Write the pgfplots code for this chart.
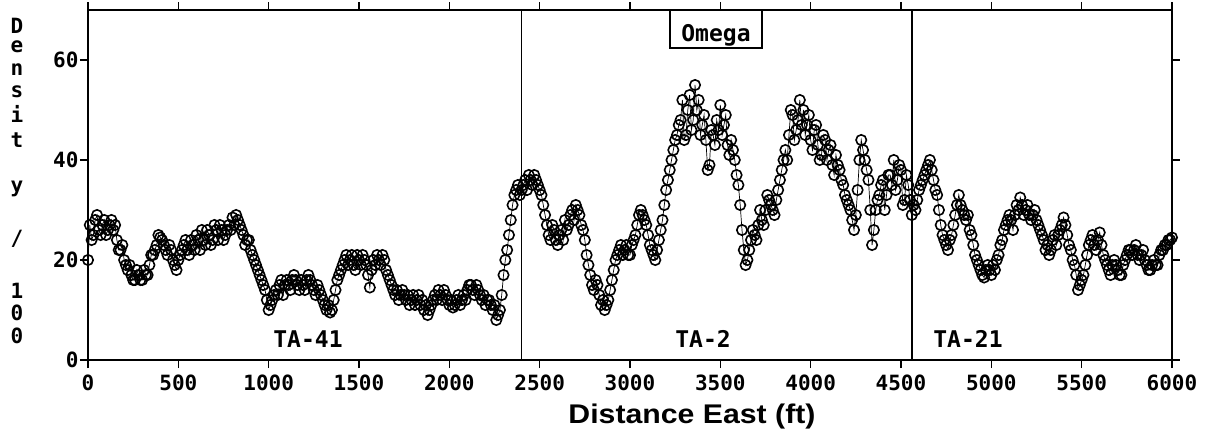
\documentclass[border=0pt]{standalone}
\usepackage{graphicx}
\usepackage{pgfplots}
\pgfplotsset{compat=1.18}
\usepackage{fontspec}
\setmainfont{Liberation Sans}
\newfontfamily\monof{DejaVu Sans Mono}
\begin{document}
\begin{tikzpicture}
\useasboundingbox (-44pt,-38pt) rectangle (559pt,180pt);
\begin{axis}[
  at={(0,0)}, anchor=south west,
  scale only axis, width=542pt, height=175pt,
  xmin=0, xmax=6000, ymin=0, ymax=70,
  xtick={0,500,...,6000}, ytick={0,20,40,60},
  xtick pos=both, ytick pos=both,
  xticklabel pos=lower, yticklabel pos=left,
  tick align=outside, major tick length=4pt,
  tick style={line width=0.8pt, black},
  axis line style={line width=0.9pt},
  /pgf/number format/assume math mode=true,
  /pgf/number format/1000 sep={},
  ticklabel style={font=\monof\bfseries\fontsize{10.5}{12}\selectfont},
  yticklabel style={inner sep=0.6pt},
  clip=false,
]
\addplot[black, line width=0.35pt, mark=o, mark size=2.6pt, mark options={line width=0.8pt, solid}] table {
x y
0 20
10 27
20 24
30 25
40 28
50 29
60 26
70 25
80 27
90 28
100 25
110 26
120 27
130 28
140 26
150 27
160 24
170 22
180 22
190 23
200 20
210 19
220 18
230 19
240 17
250 16
260 16
270 18
280 17
290 16
300 16
310 18
320 17
330 17
340 19
350 21
360 21
370 22
380 23
390 25
400 24.5
410 24
420 23
430 22
440 21
450 23
460 22
470 20
480 19
490 18
500 20
510 21
520 22
530 23
540 24
550 22
560 21
570 24
580 23
590 22
600 25
610 24
620 22
630 26
640 24
650 23
660 26
670 25
680 23
690 24
700 27
710 26
720 24
730 27
740 26
750 24
760 25
770 26
780 27
790 26
800 28.5
810 27
820 29
830 28
840 27
850 26
860 25
870 23
880 24
890 24
900 22
910 21
920 20
930 19
940 18
950 17
960 16
970 15
980 14
990 12
1000 10
1010 11
1020 12
1030 13
1040 14
1050 13
1060 15
1070 16
1080 13
1090 15
1100 16
1110 15
1120 14
1130 16
1140 17
1150 16
1160 15
1170 14
1180 16
1190 15
1200 14
1210 16
1220 17
1230 16
1240 15
1250 14
1260 13
1270 15
1280 14
1290 13
1300 12
1310 11
1320 10
1330 11
1340 9.5
1350 10
1360 12
1370 14
1380 16
1390 17
1400 18
1410 19
1420 20
1430 21
1440 19
1450 20
1460 21
1470 19
1480 18
1490 21
1500 20
1510 19
1520 21
1530 20
1540 19
1550 17
1560 14.5
1570 18
1580 20
1590 19
1600 21
1610 20
1620 19
1630 21
1640 20
1650 18
1660 17
1670 16
1680 15
1690 14
1700 13
1710 14
1720 12
1730 13
1740 14
1750 13
1760 12
1770 13
1780 11
1790 12
1800 13
1810 11
1820 12
1830 13
1840 11
1850 12
1860 10
1870 11
1880 9
1890 10
1900 11
1910 12
1920 13
1930 12
1940 14
1950 13
1960 12
1970 14
1980 13
1990 12
2000 11
2010 12
2020 10.5
2030 11
2040 12
2050 13
2060 11
2070 12
2080 13
2090 12
2100 14
2110 15
2120 15
2130 14
2140 13
2150 15
2160 14
2170 13
2180 12
2190 13
2200 11
2210 12
2220 12
2230 11
2240 10
2250 11
2260 8
2270 9
2280 10
2290 13
2300 17
2310 20
2320 22
2330 25
2340 28
2350 31
2360 33
2370 34
2380 35
2390 33
2400 34
2410 35
2420 36
2430 34
2440 37
2450 36
2460 35
2470 37
2480 36
2490 35
2500 34
2510 33
2520 31
2530 29
2540 27
2550 25
2560 24
2570 27
2580 26
2590 24
2600 23
2610 25
2620 26
2630 24
2640 28
2650 26
2660 27
2670 29
2680 30
2690 28
2700 31
2710 30
2720 29
2730 27
2740 26
2750 24
2760 21
2770 19
2780 17
2790 15
2800 14
2810 16
2820 15
2830 13
2840 11
2850 12
2860 10
2870 11
2880 12
2890 14
2900 16
2910 18
2920 20
2930 21
2940 22
2950 23
2960 21
2970 22
2980 23
2990 21
3000 21
3010 23
3020 24
3030 25
3040 27
3050 29
3060 30
3070 29
3080 28
3090 27
3100 25
3110 23
3120 22
3130 21
3140 20
3150 22
3160 24
3170 26
3180 28
3190 31
3200 34
3210 36
3220 38
3230 40
3240 42
3250 44
3260 45
3270 47
3280 48
3290 52
3300 44
3310 45
3320 50
3330 53
3340 46
3350 48
3360 55
3370 50
3380 52
3390 45
3400 47
3410 49
3420 44
3430 38
3440 39
3450 46
3460 45
3470 43
3480 48
3490 46
3500 51
3510 45
3520 47
3530 49
3540 43
3550 41
3560 44
3570 42
3580 40
3590 37
3600 35
3610 31
3620 26
3630 22
3640 19
3650 20
3660 22
3670 24
3680 26
3690 25
3700 24
3710 27
3720 30
3730 28
3740 27
3750 30
3760 33
3770 32
3780 31
3790 30
3800 29
3810 32
3820 34
3830 36
3840 38
3850 40
3860 42
3870 40
3880 45
3890 50
3900 49
3910 44
3920 46
3930 48
3940 52
3950 47
3960 50
3970 45
3980 47
3990 49
4000 44
4010 42
4020 46
4030 47
4040 43
4050 40
4060 41
4070 45
4080 44
4090 40
4100 42
4110 43
4120 39
4130 37
4140 41
4150 39
4160 38
4170 36
4180 35
4190 33
4200 32
4210 31
4220 30
4230 28
4240 26
4250 29
4260 34
4270 40
4280 44
4290 42
4300 40
4310 38
4320 36
4330 30
4340 23
4350 26
4360 30
4370 32
4380 33
4390 35
4400 36
4410 30
4420 33
4430 37
4440 37
4450 35
4460 40
4470 34
4480 36
4490 39
4500 38
4510 31
4520 32
4530 37
4540 35
4550 32
4560 29
4570 31
4580 30
4590 32
4600 34
4610 35
4620 36
4630 37
4640 38
4650 39
4660 40
4670 38
4680 36
4690 34
4700 33
4710 30
4720 27
4730 25
4740 24
4750 23
4760 22
4770 24
4780 25
4790 27
4800 29
4810 31
4820 33
4830 31
4840 30
4850 29
4860 28
4870 29
4880 26
4890 25
4900 23
4910 21
4920 20
4930 19
4940 18
4950 17
4960 16.5
4970 18
4980 19
4990 18
5000 17
5010 19
5020 18
5030 20
5040 21
5050 23
5060 24
5070 26
5080 27
5090 28
5100 29
5110 28
5120 26
5130 29
5140 31
5150 30
5160 32.5
5170 31
5180 29
5190 30
5200 31
5210 29
5220 28
5230 29
5240 30
5250 28
5260 27
5270 26
5280 25
5290 24
5300 22
5310 23
5320 21
5330 22
5340 24
5350 25
5360 23
5370 25
5380 26
5390 27
5400 28.5
5410 27
5420 25
5430 23
5440 22
5450 20
5460 19
5470 17
5480 14
5490 15
5500 16
5510 17
5520 19
5530 21
5540 23
5550 24
5560 25
5570 23
5580 22
5590 24
5600 25.5
5610 23
5620 21
5630 20
5640 19
5650 18
5660 17
5670 19
5680 20
5690 19
5700 18
5710 17
5720 17
5730 19
5740 20
5750 21
5760 22
5770 22
5780 21
5790 22
5800 23
5810 21
5820 20
5830 21
5840 22
5850 20
5860 19
5870 18
5880 18
5890 19
5900 20
5910 19
5920 19
5930 21
5940 22
5950 22
5960 23
5970 23
5980 24
5990 24
6000 24.5
};
\draw[line width=0.8pt] (axis cs:2400,0) -- (axis cs:2400,70);
\draw[line width=0.8pt] (axis cs:4560,0) -- (axis cs:4560,70);
\end{axis}
% y label, stacked letters
\begin{scope}[every node/.style={font=\monof\bfseries\fontsize{10.5}{12}\selectfont, anchor=base, inner sep=0pt}]
\node at (-35.5pt,163.5pt) {D};
\node at (-35.5pt,154pt) {e};
\node at (-35.5pt,142.5pt) {n};
\node at (-35.5pt,131.5pt) {s};
\node at (-35.5pt,119pt) {i};
\node at (-35.5pt,106.5pt) {t};
\node at (-35.5pt,84pt) {y};
\node at (-35.5pt,57.5pt) {/};
\node at (-35.5pt,31pt) {1};
\node at (-35.5pt,20pt) {0};
\node at (-35.5pt,8.5pt) {0};
\end{scope}
% region labels
\begin{scope}[every node/.style={font=\monof\bfseries\fontsize{11.5}{13}\selectfont, anchor=base, inner sep=0pt}]
\node at (110pt,6.5pt) {TA-41};
\node at (307.5pt,6.5pt) {TA-2};
\node at (440pt,6.5pt) {TA-21};
\node at (314pt,159.5pt) {Omega};
\end{scope}
\draw[line width=0.8pt] (291pt,175pt) rectangle (337pt,156pt);
\node[anchor=base, inner sep=0pt, font=\bfseries\fontsize{13.5}{15}\selectfont] at (302pt,-31.5pt) {\scalebox{1.12}[1]{Distance East (ft)}};
\end{tikzpicture}
\end{document}
